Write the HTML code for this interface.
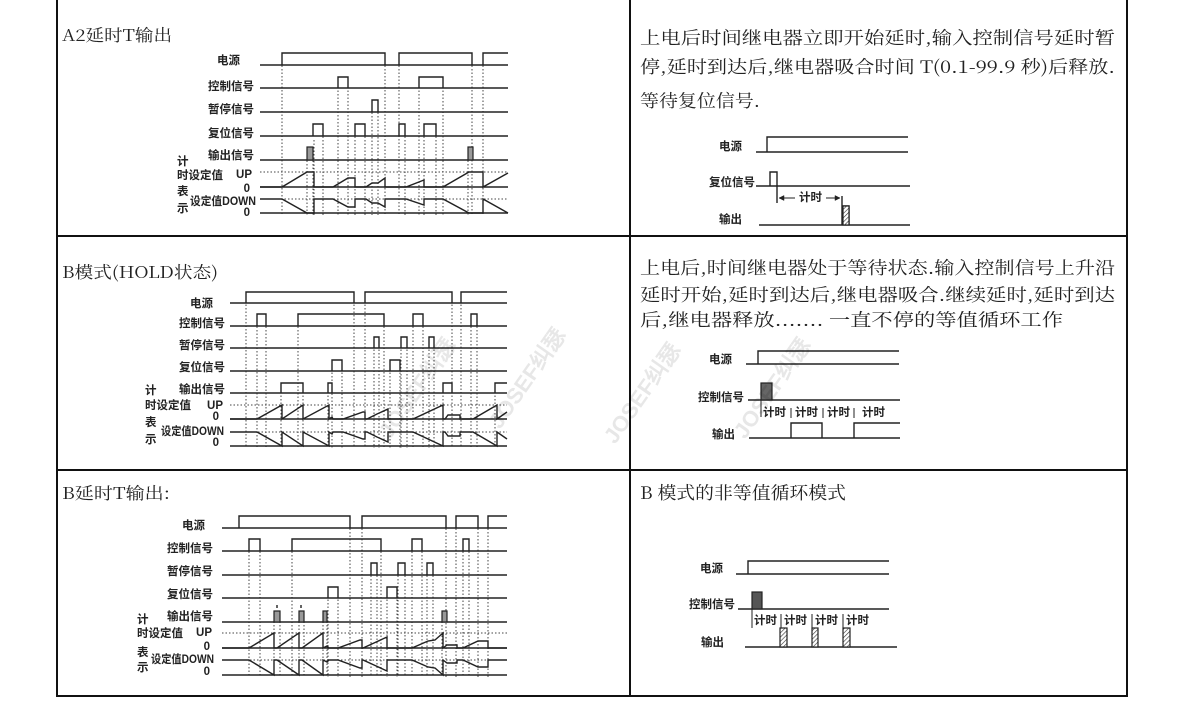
<!DOCTYPE html>
<html><head><meta charset="utf-8"><style>
html,body{margin:0;padding:0;background:#fff;}
svg{display:block;}
.t{font-family:"Noto Serif CJK SC","Liberation Serif",serif;font-size:17.5px;fill:#222;}
.h{font-family:"Noto Serif CJK SC","Liberation Serif",serif;font-size:16.5px;fill:#222;}
.l{font-family:"Liberation Sans","Noto Sans CJK SC",sans-serif;font-size:11.5px;font-weight:bold;fill:#222;dominant-baseline:middle;}
.s{fill:none;stroke:#222;stroke-width:1.4;}
.d{fill:none;stroke:#444;stroke-width:1;stroke-dasharray:1.5 2;}
.w{font-family:"Liberation Sans",sans-serif;font-weight:bold;font-size:22px;fill:#000;opacity:0.09;}
</style></head><body>
<svg width="1200" height="704" viewBox="0 0 1200 704" xmlns="http://www.w3.org/2000/svg">
<defs>
<pattern id="hat" width="3" height="3" patternUnits="userSpaceOnUse" patternTransform="rotate(45)"><rect width="3" height="3" fill="#fff"/><line x1="0" y1="0" x2="0" y2="3" stroke="#333" stroke-width="1.2"/></pattern>
</defs>
<g stroke="#111" stroke-width="2" fill="none">
<line x1="57" y1="0" x2="57" y2="697"/>
<line x1="1127" y1="0" x2="1127" y2="697"/>
<line x1="630" y1="0" x2="630" y2="697"/>
<line x1="56" y1="236" x2="1128" y2="236"/>
<line x1="56" y1="470" x2="1128" y2="470"/>
<line x1="56" y1="696" x2="1128" y2="696"/>
</g>
<text class="h" x="62" y="41" textLength="110" lengthAdjust="spacingAndGlyphs">A2延时T输出</text>
<text class="h" x="62" y="278" textLength="156" lengthAdjust="spacingAndGlyphs">B模式(HOLD状态)</text>
<text class="h" x="62" y="499" textLength="108" lengthAdjust="spacingAndGlyphs">B延时T输出:</text>
<text class="t" x="640" y="44" textLength="475" lengthAdjust="spacingAndGlyphs">上电后时间继电器立即开始延时,输入控制信号延时暂</text>
<text class="t" x="640" y="73" textLength="475" lengthAdjust="spacingAndGlyphs">停,延时到达后,继电器吸合时间 T(0.1-99.9 秒)后释放.</text>
<text class="t" x="640" y="107" textLength="120" lengthAdjust="spacingAndGlyphs">等待复位信号.</text>
<text class="t" x="640" y="274" textLength="475" lengthAdjust="spacingAndGlyphs">上电后,时间继电器处于等待状态.输入控制信号上升沿</text>
<text class="t" x="640" y="301" textLength="475" lengthAdjust="spacingAndGlyphs">延时开始,延时到达后,继电器吸合.继续延时,延时到达</text>
<text class="t" x="640" y="326" textLength="423" lengthAdjust="spacingAndGlyphs">后,继电器释放.......    一直不停的等值循环工作</text>
<text class="t" x="640" y="499" textLength="206" lengthAdjust="spacingAndGlyphs">B 模式的非等值循环模式</text>

<!-- ===== Diagram A ===== -->
<g class="d">
<path d="M282 55V215M307 150V215M313 150V215M314 140V215M323 126V215M338 80V215M348 80V215M355 126V215M365 126V215M372 102V215M378 102V215M385 55V215M399 55V215M405 126V215M419 80V215M424 126V215M436 126V215M443 80V215M468 150V215M472 55V215M483 55V215"/>
<path d="M260 172H508M260 199H508"/>
</g>
<g class="s">
<path d="M260 65H508M282 65V53H385V65M399 65V53H472V65M483 65V53H508"/>
<path d="M260 88H508M338 88V77H348V88M419 88V77H443V88"/>
<path d="M260 112H508M372 112V100H378V112"/>
<path d="M260 136H508M313 136V124H323V136M355 136V124H365V136M399 136V124H405V136M424 136V124H436V136"/>
<path d="M260 160H508"/>
<path d="M260 187H508M260 213H508"/>
<polyline points="260,187 282,187 307,172 314,172 314,187 333,187 348,178 355,178 355,187 366,187 372,183 378,183 385,178 385,187 406,187 424,180 424,187 443,187 469,172 483,172 483,187 508,173"/>
<polyline points="260,199 282,199 307,213 314,213 314,199 333,199 348,207 355,207 355,199 366,199 372,203 378,203 385,207 385,199 406,199 424,205 424,199 443,199 469,213 483,213 483,199 508,213"/>
</g>
<rect x="307" y="147" width="6" height="13" fill="#999" stroke="#222" stroke-width="1.2"/>
<rect x="468" y="147" width="5" height="13" fill="#999" stroke="#222" stroke-width="1.2"/>
<g class="l" text-anchor="end">
<text x="240" y="61">电源</text>
<text x="254" y="87">控制信号</text>
<text x="254" y="110">暂停信号</text>
<text x="254" y="134">复位信号</text>
<text x="254" y="156">输出信号</text>
<text x="252" y="175">UP</text>
<text x="250" y="189">0</text>
<text x="250" y="213">0</text>
</g>
<g class="l">
<text x="177" y="162">计</text>
<text x="177" y="176">时设定值</text>
<text x="177" y="192">表</text>
<text x="190" y="202" textLength="66" lengthAdjust="spacingAndGlyphs">设定值DOWN</text>
<text x="177" y="209">示</text>
</g>

<!-- ===== Diagram B ===== -->
<g class="d">
<path d="M246 294V448M257 316V448M266 316V448M281 385V448M298 316V448M303 385V448M328 385V448M332 362V448M342 362V448M354 294V448M365 294V448M374 339V448M379 339V448M384 316V448M390 362V448M400 362V448M401 339V448M407 339V448M413 316V448M423 316V448M429 339V448M434 339V448M443 385V448M452 294V448M461 294V448M471 316V448M477 316V448M495 385V448"/>
<path d="M230 405H507M230 432H507"/>
</g>
<g class="s">
<path d="M230 303H507M246 303V292H354V303M365 303V292H452V303M461 303V292H507"/>
<path d="M230 326H507M257 326V314H266V326M298 326V314H384V326M413 326V314H423V326M471 326V314H477V326"/>
<path d="M230 348H507M374 348V337H379V348M401 348V337H407V348M429 348V337H434V348"/>
<path d="M230 371H507M332 371V360H342V371M390 371V360H400V371"/>
<path d="M230 393H507M281 393V383H303V393M328 393V383H332V393M443 393V383H452V393M495 393V383H507"/>
<path d="M230 419H507M230 446H507"/>
<polyline points="230,419 257,419 282,405 282,419 303,405 303,419 329,405 329,419 332,417 333,419 343,419 363,412 365,412 365,419 367,419 377,414 388,409 388,419 413,419 443,405 443,419 445,419 448,415 460,415 460,419 473,419 497,405 497,419 507,412"/>
<polyline points="230,432 257,432 282,446 282,432 303,446 303,432 329,446 329,432 332,434 333,432 343,432 363,439 365,439 365,432 367,432 377,437 388,442 388,432 413,432 443,446 443,432 445,432 448,436 460,436 460,432 473,432 497,446 497,432 507,439"/>
</g>
<g class="l" text-anchor="end">
<text x="213" y="304">电源</text>
<text x="225" y="324">控制信号</text>
<text x="225" y="346">暂停信号</text>
<text x="225" y="368">复位信号</text>
<text x="225" y="390">输出信号</text>
<text x="223" y="406">UP</text>
<text x="219" y="417">0</text>
<text x="219" y="443">0</text>
</g>
<g class="l">
<text x="145" y="391">计</text>
<text x="145" y="406">时设定值</text>
<text x="145" y="423">表</text>
<text x="161" y="432" textLength="63" lengthAdjust="spacingAndGlyphs">设定值DOWN</text>
<text x="145" y="440">示</text>
</g>

<!-- ===== Diagram C ===== -->
<g class="d">
<path d="M249 541V677M260 541V677M274 611V677M280 611V677M292 541V677M299 611V677M304 611V677M323 611V677M327 611V677M328 589V677M338 589V677M350 518V677M362 518V677M371 565V677M377 565V677M381 541V677M387 589V677M397 589V677M398 565V677M405 565V677M412 541V677M422 541V677M427 565V677M433 565V677M442 611V677M446 518V677M456 518V677M463 541V677M469 541V677M478 518V677M488 518V677"/>
<path d="M222 633H507M222 660H507"/>
</g>
<g class="s">
<path d="M222 528H507M239 528V516H350V528M362 528V516H446V528M456 528V516H478V528M488 528V516H507"/>
<path d="M222 551H507M249 551V539H260V551M292 551V539H381V551M412 551V539H422V551M463 551V539H469V551"/>
<path d="M222 575H507M371 575V563H377V575M398 575V563H405V575M427 575V563H433V575"/>
<path d="M222 598H507M328 598V587H338V598M387 598V587H397V598"/>
<path d="M222 622H507"/>
<path d="M222 648H507M222 675H507"/>
<path d="M277 605V608M301 605V608"/>
<polyline points="222,648 249,648 274,633 274,648 277,648 299,633 299,648 302,648 323,633 323,648 327,646 329,648 338,648 360,640 362,640 362,648 363,648 374,643 387,637 387,648 412,648 428,641 435,640 443,633 443,648 447,645 457,645 457,648 463,648 478,641 488,641 488,648 507,648"/>
<polyline points="222,660 249,660 274,675 274,660 277,660 299,675 299,660 302,660 323,675 323,660 327,662 329,660 338,660 360,668 362,668 362,660 363,660 374,665 387,671 387,660 412,660 428,667 435,668 443,675 443,660 447,663 457,663 457,660 463,660 478,667 488,667 488,660 507,660"/>
</g>
<g fill="#999" stroke="#222" stroke-width="1.2">
<rect x="274" y="611" width="6" height="11"/><rect x="299" y="611" width="5" height="11"/><rect x="323" y="611" width="4" height="11"/><rect x="442" y="611" width="5" height="11"/>
</g>
<g class="l" text-anchor="end">
<text x="205" y="526">电源</text>
<text x="213" y="549">控制信号</text>
<text x="213" y="572">暂停信号</text>
<text x="213" y="595">复位信号</text>
<text x="213" y="617">输出信号</text>
<text x="212" y="633">UP</text>
<text x="210" y="647">0</text>
<text x="210" y="672">0</text>
</g>
<g class="l">
<text x="137" y="620">计</text>
<text x="137" y="634">时设定值</text>
<text x="137" y="653">表</text>
<text x="151" y="660" textLength="63" lengthAdjust="spacingAndGlyphs">设定值DOWN</text>
<text x="137" y="668">示</text>
</g>

<!-- ===== Right diagram 1 ===== -->
<g class="s">
<path d="M756 152H908M767 152V137H908"/>
<path d="M756 186H910M770 186V172H777V186M777 186V203"/>
<path d="M759 225H910M843 225V206H849V225"/>
<path d="M842 196V225"/>
<path d="M779 198H795M826 198H840" stroke-width="1"/>
<path d="M779 198l5-2.5v5zM840 198l-5-2.5v5z" fill="#222" stroke-width="0.5"/>
</g>
<rect x="843" y="206" width="6" height="19" fill="url(#hat)" stroke="#222" stroke-width="1.2"/>
<g class="l" text-anchor="end">
<text x="742" y="147">电源</text>
<text x="755" y="183">复位信号</text>
<text x="742" y="220">输出</text>
</g>
<text class="l" x="799" y="198">计时</text>

<!-- ===== Right diagram 2 ===== -->
<g class="s">
<path d="M746 364H899M758 364V351H899"/>
<path d="M748 400H900"/>
<path d="M761 400V417" stroke-width="1"/>
<path d="M749 438H900M791 438V423H822V438M854 438V423H900"/>
<path d="M791 408V418M823 408V418M854 408V418" stroke-width="1"/>
</g>
<rect x="761" y="383" width="11" height="17" fill="#666" stroke="#222" stroke-width="1.2"/>
<g class="l" text-anchor="end">
<text x="732" y="360">电源</text>
<text x="744" y="398">控制信号</text>
<text x="735" y="435">输出</text>
</g>
<g class="l">
<text x="763" y="413">计时</text><text x="795" y="413">计时</text><text x="827" y="413">计时</text><text x="862" y="413">计时</text>
</g>

<!-- ===== Right diagram 3 ===== -->
<g class="s">
<path d="M736 574H889M748 574V561H889"/>
<path d="M738 609H889"/>
<path d="M752 609V628M781 614V628M812 614V628M843 614V628" stroke-width="1"/>
<path d="M745 647H897"/>
</g>
<rect x="752" y="592" width="10" height="17" fill="#555" stroke="#222" stroke-width="1.2"/>
<g fill="url(#hat)" stroke="#222" stroke-width="1.2">
<rect x="780" y="628" width="7" height="19"/><rect x="812" y="628" width="6" height="19"/><rect x="843" y="628" width="7" height="19"/>
</g>
<g class="l" text-anchor="end">
<text x="723" y="569">电源</text>
<text x="735" y="605">控制信号</text>
<text x="724" y="643">输出</text>
</g>
<g class="l">
<text x="754" y="621">计时</text><text x="784" y="621">计时</text><text x="815" y="621">计时</text><text x="846" y="621">计时</text>
</g>

<text class="w" transform="translate(390,440) rotate(-55)">JOSEF纠瑟</text>
<text class="w" transform="translate(500,430) rotate(-55)">JOSEF纠瑟</text>
<text class="w" transform="translate(615,445) rotate(-55)">JOSEF纠瑟</text>
<text class="w" transform="translate(745,440) rotate(-55)">JOSEF纠瑟</text>
</svg>
</body></html>
